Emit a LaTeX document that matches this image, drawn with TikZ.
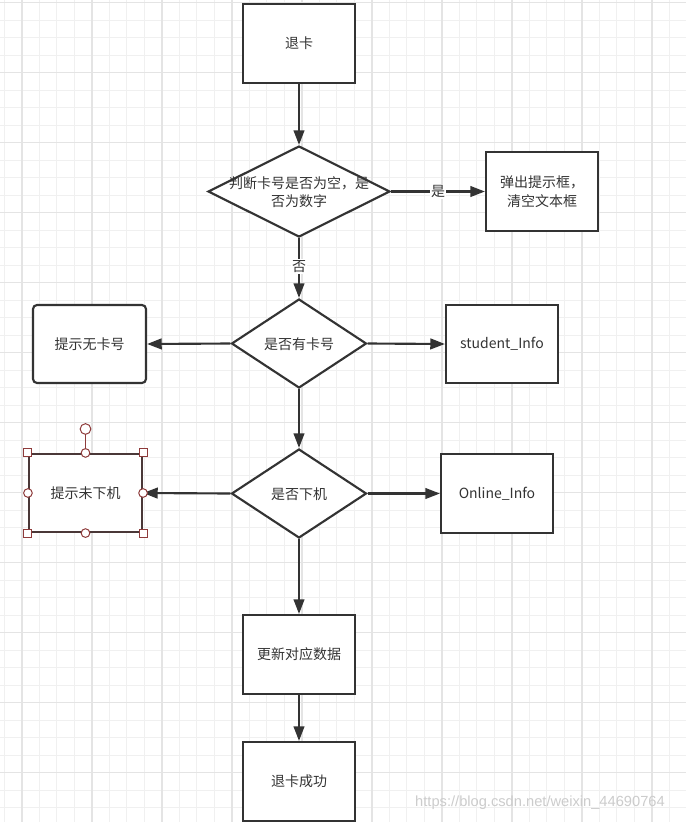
\documentclass[tikz,border=0pt]{standalone}
\usepackage{fontspec}
\setmainfont{Noto Sans CJK SC}
\newfontfamily\wmfont{Liberation Sans}
\usetikzlibrary{shapes.geometric,arrows.meta}
\definecolor{ink}{HTML}{333333}
\definecolor{minorg}{HTML}{F0F0F0}
\definecolor{majorg}{HTML}{E4E4E4}
\definecolor{handle}{HTML}{8E3B3B}
\definecolor{selbord}{HTML}{4A3838}
\tikzset{
  box/.style={draw=ink,line width=1.6pt,fill=white,minimum width=84pt,minimum height=59.25pt,
    inner sep=0pt,font=\fontsize{10.5pt}{14pt}\selectfont,text=ink,align=center},
  dia/.style={draw=ink,line width=1.6pt,fill=white,shape=diamond,inner sep=0pt,
    font=\fontsize{10.5pt}{14pt}\selectfont,text=ink,align=center},
  conn/.style={draw=ink,line width=1.6pt,-{Triangle[length=11pt,width=8pt]}},
  lab/.style={fill=white,inner sep=1pt,font=\fontsize{10.5pt}{14pt}\selectfont,text=ink},
  sq/.style={draw=handle,fill=white,line width=0.75pt,minimum size=6pt,inner sep=0pt,shape=rectangle},
  ci/.style={draw=handle,fill=white,line width=0.75pt,minimum size=6.5pt,inner sep=0pt,shape=circle},
}
\begin{document}
\begin{tikzpicture}[x=0.75pt,y=-0.75pt]
\useasboundingbox (0,0) rectangle (686,822);
\fill[white] (0,0) rectangle (686,822);
% grid
\foreach \i in {0,...,39} {
  \draw[minorg,line width=0.85pt] (4.3+17.5*\i,0) -- (4.3+17.5*\i,822);
}
\foreach \i in {0,...,47} {
  \draw[minorg,line width=0.85pt] (0,2.7+17.5*\i) -- (686,2.7+17.5*\i);
}
\foreach \i in {0,...,9} {
  \draw[majorg,line width=1.1pt] (21.8+70*\i,0) -- (21.8+70*\i,822);
}
\foreach \i in {0,...,11} {
  \draw[majorg,line width=1.1pt] (0,2.7+70*\i) -- (686,2.7+70*\i);
}
% nodes
\node[box] (n1) at (299,43.5) {退卡};
\node[dia,minimum width=136.5pt,minimum height=68.25pt] (d1) at (299,191.5) {};
\node[font=\fontsize{10.5pt}{13.5pt}\selectfont,text=ink,align=center,inner sep=0pt] (t1) at (299,192) {判断卡号是否为空，是\\否为数字};
\node[box] (b1) at (542,191.5) {弹出提示框，\\清空文本框};
\node[dia,minimum width=101.25pt,minimum height=66.75pt] (d2) at (299,343.5) {};
\node[font=\fontsize{10.5pt}{14pt}\selectfont,text=ink,inner sep=0pt] (t2) at (299,344) {是否有卡号};
\node[box,rounded corners=3pt,minimum width=84.75pt,minimum height=58.5pt] (l1) at (89.5,344) {提示无卡号};
\node[box,minimum height=58.5pt] (r1) at (502,344) {student\_Info};
\node[dia,minimum width=101.25pt,minimum height=66.75pt] (d3) at (299,493.5) {};
\node[font=\fontsize{10.5pt}{14pt}\selectfont,text=ink,inner sep=0pt] (t3) at (299,494) {是否下机};
\node[box,draw=selbord,minimum width=84.75pt,minimum height=58.5pt] (l2) at (85.5,493) {提示未下机};
\node[box] (r2) at (497,493.5) {Online\_Info};
\node[box] (n2) at (299,654.5) {更新对应数据};
\node[box] (n3) at (299,781.5) {退卡成功};
% connectors
\draw[conn] (n1.south) -- (d1.north);
\draw[conn] (d1.east) -- node[lab] (ly) {是} (b1.west);
\draw[conn] (d1.south) -- node[lab,pos=0.48] (ln) {否} (d2.north);
\draw[conn] (d2.west) -- (l1.east);
\draw[conn] (d2.east) -- (r1.west);
\draw[conn] (d2.south) -- (d3.north);
\draw[conn] (d3.west) -- (l2.east);
\draw[conn] (d3.east) -- (r2.west);
\draw[conn] (d3.south) -- (n2.north);
\draw[conn] (n2.south) -- (n3.north);
% selection handles
\coordinate (rot) at (85.5,429);
\draw[handle,line width=0.75pt] (rot) -- (l2.north);
\node[ci,minimum size=8pt] (hr) at (rot) {};
\node[sq] (h1) at (l2.north west) {};
\node[sq] (h2) at (l2.north east) {};
\node[sq] (h3) at (l2.south west) {};
\node[sq] (h4) at (l2.south east) {};
\node[ci] (h5) at (l2.north) {};
\node[ci] (h6) at (l2.south) {};
\node[ci] (h7) at (l2.west) {};
\node[ci] (h8) at (l2.east) {};
% watermark
\node[font=\wmfont\fontsize{11pt}{13pt}\selectfont,text=black!20,inner sep=0pt] (wm) at (540,803) {https://blog.csdn.net/weixin\_44690764};
\end{tikzpicture}
\end{document}
